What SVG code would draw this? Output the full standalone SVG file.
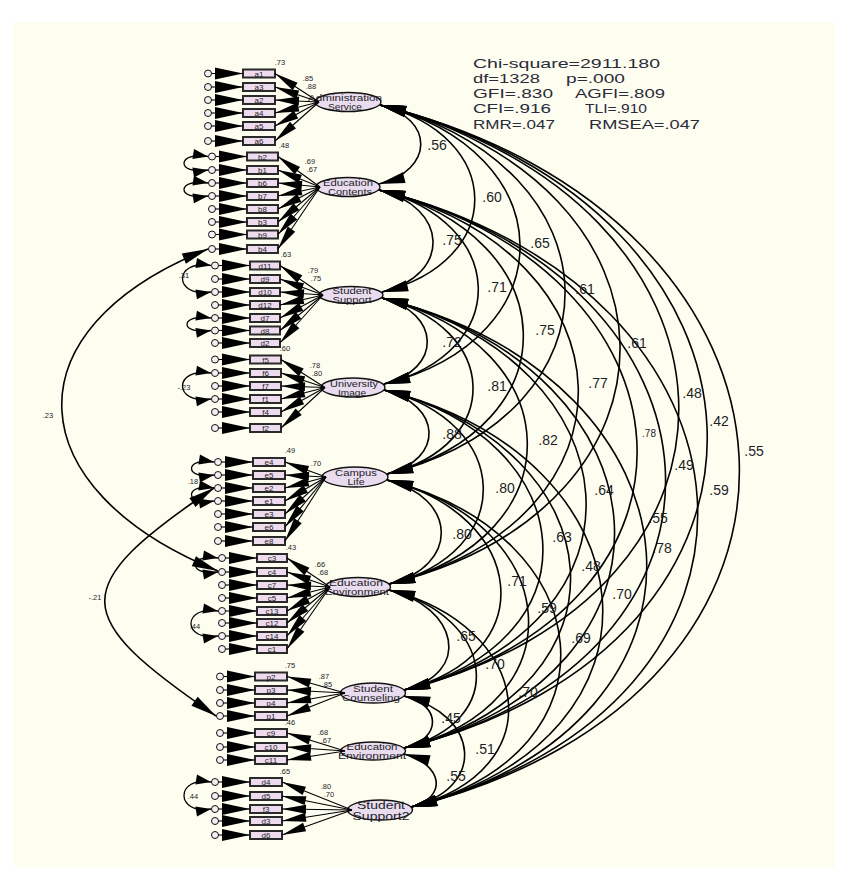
<svg xmlns="http://www.w3.org/2000/svg" width="849" height="880" viewBox="0 0 849 880">
<style>
text{font-family:"Liberation Sans",Arial,sans-serif;fill:#1e1e28}
.ind{fill:#eedcee;stroke:#2a2a2a;stroke-width:2}
.lat{fill:#e8dcee;stroke:#111;stroke-width:1.4}
.err{fill:#f4eef4;stroke:#111;stroke-width:1}
.it{font-size:8px;text-anchor:middle}
.lt{font-size:9px;text-anchor:middle}
.st{font-size:13px;fill:#2a2a3a}
.cl{font-size:14px;text-anchor:middle}
.sl{font-size:7.5px;text-anchor:middle}
.ld line{stroke:#000;stroke-width:1.1;marker-end:url(#al)}
.ea line{stroke:#000;stroke-width:1.1;marker-end:url(#ae)}
.cv path{fill:none;stroke:#000;stroke-width:1.6;marker-start:url(#ah);marker-end:url(#ah)}
.ec path{fill:none;stroke:#000;stroke-width:1.3;marker-start:url(#as);marker-end:url(#as)}
</style>
<defs>
<marker id="ah" markerUnits="userSpaceOnUse" markerWidth="26" markerHeight="12" refX="26" refY="6" orient="auto-start-reverse" overflow="visible"><path d="M0,0.5 L26,6 L0,11.5 Z" fill="#000"/></marker>
<marker id="ae" markerUnits="userSpaceOnUse" markerWidth="28" markerHeight="13" refX="28" refY="6.5" orient="auto" overflow="visible"><path d="M0,0.5 L28,6.5 L0,12.5 Z" fill="#000"/></marker>
<marker id="al" markerUnits="userSpaceOnUse" markerWidth="24" markerHeight="10" refX="24" refY="5" orient="auto" overflow="visible"><path d="M0,0.5 L24,5 L0,9.5 Z" fill="#000"/></marker>
<marker id="as" markerUnits="userSpaceOnUse" markerWidth="15" markerHeight="10" refX="15" refY="5" orient="auto-start-reverse" overflow="visible"><path d="M0,0 L15,5 L0,10 Z" fill="#000"/></marker>
</defs>
<rect x="0" y="0" width="849" height="880" fill="#ffffff"/>
<rect x="14" y="22" width="821" height="846" fill="#fdfdf0"/>

<g id="fit-stats">
<text class="st" x="473" y="68" textLength="187" lengthAdjust="spacingAndGlyphs">Chi-square=2911.180</text>
<text class="st" x="473" y="83" textLength="67" lengthAdjust="spacingAndGlyphs">df=1328</text>
<text class="st" x="566" y="83" textLength="59" lengthAdjust="spacingAndGlyphs">p=.000</text>
<text class="st" x="473" y="98" textLength="80" lengthAdjust="spacingAndGlyphs">GFI=.830</text>
<text class="st" x="575" y="98" textLength="90" lengthAdjust="spacingAndGlyphs">AGFI=.809</text>
<text class="st" x="473" y="113" textLength="78" lengthAdjust="spacingAndGlyphs">CFI=.916</text>
<text class="st" x="585" y="113" textLength="62" lengthAdjust="spacingAndGlyphs">TLI=.910</text>
<text class="st" x="473" y="129" textLength="82" lengthAdjust="spacingAndGlyphs">RMR=.047</text>
<text class="st" x="589" y="129" textLength="111" lengthAdjust="spacingAndGlyphs">RMSEA=.047</text>
</g>

<g id="n-admin"><ellipse class="lat" cx="348" cy="102" rx="33" ry="9.5"/><text class="lt" x="345" y="101" textLength="74" lengthAdjust="spacingAndGlyphs">Administration</text><text class="lt" x="345" y="110" textLength="34" lengthAdjust="spacingAndGlyphs">Service</text></g>
<g id="n-educontents"><ellipse class="lat" cx="348" cy="187" rx="32" ry="9.5"/><text class="lt" x="348" y="186" textLength="50" lengthAdjust="spacingAndGlyphs">Education</text><text class="lt" x="350" y="195" textLength="44" lengthAdjust="spacingAndGlyphs">Contents</text></g>
<g id="n-stusupport"><ellipse class="lat" cx="351" cy="295" rx="32" ry="8.5"/><text class="lt" x="352" y="294" textLength="39" lengthAdjust="spacingAndGlyphs">Student</text><text class="lt" x="352" y="303" textLength="39" lengthAdjust="spacingAndGlyphs">Support</text></g>
<g id="n-uniimage"><ellipse class="lat" cx="353" cy="387.5" rx="32" ry="9.5"/><text class="lt" x="354" y="387" textLength="48" lengthAdjust="spacingAndGlyphs">University</text><text class="lt" x="352" y="396" textLength="28" lengthAdjust="spacingAndGlyphs">Image</text></g>
<g id="n-campus"><ellipse class="lat" cx="355" cy="477" rx="33" ry="10"/><text class="lt" x="356" y="476" textLength="42" lengthAdjust="spacingAndGlyphs">Campus</text><text class="lt" x="356" y="485" textLength="17" lengthAdjust="spacingAndGlyphs">Life</text></g>
<g id="n-eduenv"><ellipse class="lat" cx="358" cy="587" rx="32.5" ry="9.5"/><text class="lt" x="356" y="586" textLength="54" lengthAdjust="spacingAndGlyphs">Education</text><text class="lt" x="357" y="595" textLength="64" lengthAdjust="spacingAndGlyphs">Environment</text></g>
<g id="n-counseling"><ellipse class="lat" cx="373" cy="693" rx="32.5" ry="10"/><text class="lt" x="373" y="692" textLength="40" lengthAdjust="spacingAndGlyphs">Student</text><text class="lt" x="371" y="701" textLength="58" lengthAdjust="spacingAndGlyphs">Counseling</text></g>
<g id="n-eduenv2"><ellipse class="lat" cx="373" cy="751" rx="32.5" ry="9"/><text class="lt" x="372" y="750" textLength="51" lengthAdjust="spacingAndGlyphs">Education</text><text class="lt" x="372" y="759" textLength="68" lengthAdjust="spacingAndGlyphs">Environment</text></g>
<g id="n-stusupport2"><ellipse class="lat" cx="380" cy="810" rx="32.5" ry="10"/><text class="lt" x="381" y="808.5" style="font-size:10.5px" textLength="48" lengthAdjust="spacingAndGlyphs">Student</text><text class="lt" x="381" y="820" style="font-size:10.5px" textLength="57" lengthAdjust="spacingAndGlyphs">Support2</text></g>

<g id="v-a1"><circle class="err" cx="208" cy="73.5" r="3.5"/><rect class="ind" x="243" y="69.5" width="32" height="8"/><text class="it" x="259" y="76.5">a1</text></g>
<g id="v-a3"><circle class="err" cx="208" cy="87" r="3.5"/><rect class="ind" x="243" y="83" width="32" height="8"/><text class="it" x="259" y="90">a3</text></g>
<g id="v-a2"><circle class="err" cx="208" cy="100" r="3.5"/><rect class="ind" x="243" y="96" width="32" height="8"/><text class="it" x="259" y="103">a2</text></g>
<g id="v-a4"><circle class="err" cx="208" cy="113" r="3.5"/><rect class="ind" x="243" y="109" width="32" height="8"/><text class="it" x="259" y="116">a4</text></g>
<g id="v-a5"><circle class="err" cx="208" cy="126" r="3.5"/><rect class="ind" x="243" y="122" width="32" height="8"/><text class="it" x="259" y="129">a5</text></g>
<g id="v-a6"><circle class="err" cx="208" cy="141" r="3.5"/><rect class="ind" x="243" y="137" width="32" height="8"/><text class="it" x="259" y="144">a6</text></g>

<g id="v-b2"><circle class="err" cx="212" cy="156.5" r="3.5"/><rect class="ind" x="247" y="152.5" width="31" height="8"/><text class="it" x="262.5" y="159.5">b2</text></g>
<g id="v-b1"><circle class="err" cx="212" cy="170" r="3.5"/><rect class="ind" x="247" y="166" width="31" height="8"/><text class="it" x="262.5" y="173">b1</text></g>
<g id="v-b6"><circle class="err" cx="212" cy="183" r="3.5"/><rect class="ind" x="247" y="179" width="31" height="8"/><text class="it" x="262.5" y="186">b6</text></g>
<g id="v-b7"><circle class="err" cx="212" cy="196" r="3.5"/><rect class="ind" x="247" y="192" width="31" height="8"/><text class="it" x="262.5" y="199">b7</text></g>
<g id="v-b8"><circle class="err" cx="212" cy="209" r="3.5"/><rect class="ind" x="247" y="205" width="31" height="8"/><text class="it" x="262.5" y="212">b8</text></g>
<g id="v-b3"><circle class="err" cx="212" cy="222" r="3.5"/><rect class="ind" x="247" y="218" width="31" height="8"/><text class="it" x="262.5" y="225">b3</text></g>
<g id="v-b9"><circle class="err" cx="212" cy="234.5" r="3.5"/><rect class="ind" x="247" y="230.5" width="31" height="8"/><text class="it" x="262.5" y="237.5">b9</text></g>
<g id="v-b4"><circle class="err" cx="212" cy="249" r="3.5"/><rect class="ind" x="247" y="245" width="31" height="8"/><text class="it" x="262.5" y="252">b4</text></g>

<g id="v-d11"><circle class="err" cx="215" cy="265.5" r="3.5"/><rect class="ind" x="250" y="261.5" width="30" height="8"/><text class="it" x="265" y="268.5">d11</text></g>
<g id="v-d9"><circle class="err" cx="215" cy="279" r="3.5"/><rect class="ind" x="250" y="275" width="30" height="8"/><text class="it" x="265" y="282">d9</text></g>
<g id="v-d10"><circle class="err" cx="215" cy="292" r="3.5"/><rect class="ind" x="250" y="288" width="30" height="8"/><text class="it" x="265" y="295">d10</text></g>
<g id="v-d12"><circle class="err" cx="215" cy="305" r="3.5"/><rect class="ind" x="250" y="301" width="30" height="8"/><text class="it" x="265" y="308">d12</text></g>
<g id="v-d7"><circle class="err" cx="215" cy="318" r="3.5"/><rect class="ind" x="250" y="314" width="30" height="8"/><text class="it" x="265" y="321">d7</text></g>
<g id="v-d8"><circle class="err" cx="215" cy="330.5" r="3.5"/><rect class="ind" x="250" y="326.5" width="30" height="8"/><text class="it" x="265" y="333.5">d8</text></g>
<g id="v-d2"><circle class="err" cx="215" cy="343" r="3.5"/><rect class="ind" x="250" y="339" width="30" height="8"/><text class="it" x="265" y="346">d2</text></g>

<g id="v-f5"><circle class="err" cx="215" cy="359.5" r="3.5"/><rect class="ind" x="250" y="355.5" width="31" height="8"/><text class="it" x="265.5" y="362.5">f5</text></g>
<g id="v-f6"><circle class="err" cx="215" cy="373" r="3.5"/><rect class="ind" x="250" y="369" width="31" height="8"/><text class="it" x="265.5" y="376">f6</text></g>
<g id="v-f7"><circle class="err" cx="215" cy="386" r="3.5"/><rect class="ind" x="250" y="382" width="31" height="8"/><text class="it" x="265.5" y="389">f7</text></g>
<g id="v-f1"><circle class="err" cx="215" cy="399" r="3.5"/><rect class="ind" x="250" y="395" width="31" height="8"/><text class="it" x="265.5" y="402">f1</text></g>
<g id="v-f4"><circle class="err" cx="215" cy="412" r="3.5"/><rect class="ind" x="250" y="408" width="31" height="8"/><text class="it" x="265.5" y="415">f4</text></g>
<g id="v-f2"><circle class="err" cx="215" cy="428" r="3.5"/><rect class="ind" x="250" y="424" width="31" height="8"/><text class="it" x="265.5" y="431">f2</text></g>

<g id="v-e4"><circle class="err" cx="218" cy="462" r="3.5"/><rect class="ind" x="253" y="458" width="32" height="8"/><text class="it" x="269" y="465">e4</text></g>
<g id="v-e5"><circle class="err" cx="218" cy="475" r="3.5"/><rect class="ind" x="253" y="471" width="32" height="8"/><text class="it" x="269" y="478">e5</text></g>
<g id="v-e2"><circle class="err" cx="218" cy="488" r="3.5"/><rect class="ind" x="253" y="484" width="32" height="8"/><text class="it" x="269" y="491">e2</text></g>
<g id="v-e1"><circle class="err" cx="218" cy="501" r="3.5"/><rect class="ind" x="253" y="497" width="32" height="8"/><text class="it" x="269" y="504">e1</text></g>
<g id="v-e3"><circle class="err" cx="218" cy="514" r="3.5"/><rect class="ind" x="253" y="510" width="32" height="8"/><text class="it" x="269" y="517">e3</text></g>
<g id="v-e6"><circle class="err" cx="218" cy="527" r="3.5"/><rect class="ind" x="253" y="523" width="32" height="8"/><text class="it" x="269" y="530">e6</text></g>
<g id="v-e8"><circle class="err" cx="218" cy="541" r="3.5"/><rect class="ind" x="253" y="537" width="32" height="8"/><text class="it" x="269" y="544">e8</text></g>

<g id="v-c3"><circle class="err" cx="222" cy="558" r="3.5"/><rect class="ind" x="257" y="554" width="30" height="8"/><text class="it" x="272" y="561">c3</text></g>
<g id="v-c4"><circle class="err" cx="222" cy="572" r="3.5"/><rect class="ind" x="257" y="568" width="30" height="8"/><text class="it" x="272" y="575">c4</text></g>
<g id="v-c7"><circle class="err" cx="222" cy="585" r="3.5"/><rect class="ind" x="257" y="581" width="30" height="8"/><text class="it" x="272" y="588">c7</text></g>
<g id="v-c5"><circle class="err" cx="222" cy="598" r="3.5"/><rect class="ind" x="257" y="594" width="30" height="8"/><text class="it" x="272" y="601">c5</text></g>
<g id="v-c13"><circle class="err" cx="222" cy="611" r="3.5"/><rect class="ind" x="257" y="607" width="30" height="8"/><text class="it" x="272" y="614">c13</text></g>
<g id="v-c12"><circle class="err" cx="222" cy="623" r="3.5"/><rect class="ind" x="257" y="619" width="30" height="8"/><text class="it" x="272" y="626">c12</text></g>
<g id="v-c14"><circle class="err" cx="222" cy="636" r="3.5"/><rect class="ind" x="257" y="632" width="30" height="8"/><text class="it" x="272" y="639">c14</text></g>
<g id="v-c1"><circle class="err" cx="222" cy="649" r="3.5"/><rect class="ind" x="257" y="645" width="30" height="8"/><text class="it" x="272" y="652">c1</text></g>

<g id="v-p2"><circle class="err" cx="220" cy="676.5" r="3.5"/><rect class="ind" x="255" y="672.5" width="32" height="8"/><text class="it" x="271" y="679.5">p2</text></g>
<g id="v-p3"><circle class="err" cx="220" cy="690" r="3.5"/><rect class="ind" x="255" y="686" width="32" height="8"/><text class="it" x="271" y="693">p3</text></g>
<g id="v-p4"><circle class="err" cx="220" cy="703" r="3.5"/><rect class="ind" x="255" y="699" width="32" height="8"/><text class="it" x="271" y="706">p4</text></g>
<g id="v-p1"><circle class="err" cx="220" cy="716" r="3.5"/><rect class="ind" x="255" y="712" width="32" height="8"/><text class="it" x="271" y="719">p1</text></g>

<g id="v-c9"><circle class="err" cx="220" cy="733" r="3.5"/><rect class="ind" x="255" y="729" width="32" height="8"/><text class="it" x="271" y="736">c9</text></g>
<g id="v-c10"><circle class="err" cx="220" cy="747" r="3.5"/><rect class="ind" x="255" y="743" width="32" height="8"/><text class="it" x="271" y="750">c10</text></g>
<g id="v-c11"><circle class="err" cx="220" cy="760" r="3.5"/><rect class="ind" x="255" y="756" width="32" height="8"/><text class="it" x="271" y="763">c11</text></g>

<g id="v-d4"><circle class="err" cx="215" cy="782" r="3.5"/><rect class="ind" x="250" y="778" width="32" height="8"/><text class="it" x="266" y="785">d4</text></g>
<g id="v-d5"><circle class="err" cx="215" cy="796" r="3.5"/><rect class="ind" x="250" y="792" width="32" height="8"/><text class="it" x="266" y="799">d5</text></g>
<g id="v-f3"><circle class="err" cx="215" cy="809" r="3.5"/><rect class="ind" x="250" y="805" width="32" height="8"/><text class="it" x="266" y="812">f3</text></g>
<g id="v-d3"><circle class="err" cx="215" cy="821" r="3.5"/><rect class="ind" x="250" y="817" width="32" height="8"/><text class="it" x="266" y="824">d3</text></g>
<g id="v-d6"><circle class="err" cx="215" cy="835" r="3.5"/><rect class="ind" x="250" y="831" width="32" height="8"/><text class="it" x="266" y="838">d6</text></g>

<g id="connectors">
<g class="ld">
<line x1="319" y1="102" x2="275" y2="73.5"/><line x1="319" y1="102" x2="275" y2="87"/><line x1="319" y1="102" x2="275" y2="100"/><line x1="319" y1="102" x2="275" y2="113"/><line x1="319" y1="102" x2="275" y2="126"/><line x1="319" y1="102" x2="275" y2="141"/>
<line x1="320" y1="187" x2="278" y2="156.5"/><line x1="320" y1="187" x2="278" y2="170"/><line x1="320" y1="187" x2="278" y2="183"/><line x1="320" y1="187" x2="278" y2="196"/><line x1="320" y1="187" x2="278" y2="209"/><line x1="320" y1="187" x2="278" y2="222"/><line x1="320" y1="187" x2="278" y2="234.5"/><line x1="320" y1="187" x2="278" y2="249"/>
<line x1="323" y1="295" x2="280" y2="265.5"/><line x1="323" y1="295" x2="280" y2="279"/><line x1="323" y1="295" x2="280" y2="292"/><line x1="323" y1="295" x2="280" y2="305"/><line x1="323" y1="295" x2="280" y2="318"/><line x1="323" y1="295" x2="280" y2="330.5"/><line x1="323" y1="295" x2="280" y2="343"/>
<line x1="325" y1="387.5" x2="281" y2="359.5"/><line x1="325" y1="387.5" x2="281" y2="373"/><line x1="325" y1="387.5" x2="281" y2="386"/><line x1="325" y1="387.5" x2="281" y2="399"/><line x1="325" y1="387.5" x2="281" y2="412"/><line x1="325" y1="387.5" x2="281" y2="428"/>
<line x1="326" y1="477" x2="285" y2="462"/><line x1="326" y1="477" x2="285" y2="475"/><line x1="326" y1="477" x2="285" y2="488"/><line x1="326" y1="477" x2="285" y2="501"/><line x1="326" y1="477" x2="285" y2="514"/><line x1="326" y1="477" x2="285" y2="527"/><line x1="326" y1="477" x2="285" y2="541"/>
<line x1="330" y1="587" x2="287" y2="558"/><line x1="330" y1="587" x2="287" y2="572"/><line x1="330" y1="587" x2="287" y2="585"/><line x1="330" y1="587" x2="287" y2="598"/><line x1="330" y1="587" x2="287" y2="611"/><line x1="330" y1="587" x2="287" y2="623"/><line x1="330" y1="587" x2="287" y2="636"/><line x1="330" y1="587" x2="287" y2="649"/>
<line x1="345" y1="693" x2="287" y2="676.5"/><line x1="345" y1="693" x2="287" y2="690"/><line x1="345" y1="693" x2="287" y2="703"/><line x1="345" y1="693" x2="287" y2="716"/>
<line x1="345" y1="751" x2="287" y2="733"/><line x1="345" y1="751" x2="287" y2="747"/><line x1="345" y1="751" x2="287" y2="760"/>
<line x1="352" y1="810" x2="282" y2="782"/><line x1="352" y1="810" x2="282" y2="796"/><line x1="352" y1="810" x2="282" y2="809"/><line x1="352" y1="810" x2="282" y2="821"/><line x1="352" y1="810" x2="282" y2="835"/>
</g>
<g class="ea">
<line x1="211.5" y1="73.5" x2="243" y2="73.5"/><line x1="211.5" y1="87" x2="243" y2="87"/><line x1="211.5" y1="100" x2="243" y2="100"/><line x1="211.5" y1="113" x2="243" y2="113"/><line x1="211.5" y1="126" x2="243" y2="126"/><line x1="211.5" y1="141" x2="243" y2="141"/>
<line x1="215.5" y1="156.5" x2="247" y2="156.5"/><line x1="215.5" y1="170" x2="247" y2="170"/><line x1="215.5" y1="183" x2="247" y2="183"/><line x1="215.5" y1="196" x2="247" y2="196"/><line x1="215.5" y1="209" x2="247" y2="209"/><line x1="215.5" y1="222" x2="247" y2="222"/><line x1="215.5" y1="234.5" x2="247" y2="234.5"/><line x1="215.5" y1="249" x2="247" y2="249"/>
<line x1="218.5" y1="265.5" x2="250" y2="265.5"/><line x1="218.5" y1="279" x2="250" y2="279"/><line x1="218.5" y1="292" x2="250" y2="292"/><line x1="218.5" y1="305" x2="250" y2="305"/><line x1="218.5" y1="318" x2="250" y2="318"/><line x1="218.5" y1="330.5" x2="250" y2="330.5"/><line x1="218.5" y1="343" x2="250" y2="343"/>
<line x1="218.5" y1="359.5" x2="250" y2="359.5"/><line x1="218.5" y1="373" x2="250" y2="373"/><line x1="218.5" y1="386" x2="250" y2="386"/><line x1="218.5" y1="399" x2="250" y2="399"/><line x1="218.5" y1="412" x2="250" y2="412"/><line x1="218.5" y1="428" x2="250" y2="428"/>
<line x1="221.5" y1="462" x2="253" y2="462"/><line x1="221.5" y1="475" x2="253" y2="475"/><line x1="221.5" y1="488" x2="253" y2="488"/><line x1="221.5" y1="501" x2="253" y2="501"/><line x1="221.5" y1="514" x2="253" y2="514"/><line x1="221.5" y1="527" x2="253" y2="527"/><line x1="221.5" y1="541" x2="253" y2="541"/>
<line x1="225.5" y1="558" x2="257" y2="558"/><line x1="225.5" y1="572" x2="257" y2="572"/><line x1="225.5" y1="585" x2="257" y2="585"/><line x1="225.5" y1="598" x2="257" y2="598"/><line x1="225.5" y1="611" x2="257" y2="611"/><line x1="225.5" y1="623" x2="257" y2="623"/><line x1="225.5" y1="636" x2="257" y2="636"/><line x1="225.5" y1="649" x2="257" y2="649"/>
<line x1="223.5" y1="676.5" x2="255" y2="676.5"/><line x1="223.5" y1="690" x2="255" y2="690"/><line x1="223.5" y1="703" x2="255" y2="703"/><line x1="223.5" y1="716" x2="255" y2="716"/>
<line x1="223.5" y1="733" x2="255" y2="733"/><line x1="223.5" y1="747" x2="255" y2="747"/><line x1="223.5" y1="760" x2="255" y2="760"/>
<line x1="218.5" y1="782" x2="250" y2="782"/><line x1="218.5" y1="796" x2="250" y2="796"/><line x1="218.5" y1="809" x2="250" y2="809"/><line x1="218.5" y1="821" x2="250" y2="821"/><line x1="218.5" y1="835" x2="250" y2="835"/>
</g>
<g class="ec">
<path d="M208,156.5 C176,151 176,175.5 208,170"/>
<path d="M208,183 C176,178 176,201 208,196"/>
<path d="M211,265.5 C173,259 173,298 211,292"/>
<path d="M211,318 C179,313 179,335.5 211,330.5"/>
<path d="M211,373 C173,367 173,405 211,399"/>
<path d="M214,462 C184,457 184,480 214,475"/>
<path d="M214,488 C184,483 184,506 214,501"/>
<path d="M218,558 C188,553 188,577 218,572"/>
<path d="M218,611 C182,605 182,642 218,636"/>
<path d="M211,782 C175,776 175,815 211,809"/>
</g>
<g class="cv">
<path d="M208,249 C5,330 18,490 218,571"/>
<path d="M214,488 C66,588 70,616 216,716"/>
<path d="M380,105 C435,119 434,170 379,184"/>
<path d="M380,105 C505,136 507,261 382,292"/>
<path d="M380,105 C564,151 568,338 384,384"/>
<path d="M380,105 C622,166 629,413 387,474"/>
<path d="M380,105 C694,183 703,506 389,584"/>
<path d="M380,105 C762,201 786,594 404,690"/>
<path d="M380,105 C800,210 824,643 404,748"/>
<path d="M380,105 C838,219 869,693 411,807"/>
<path d="M379,190 C449,207 452,275 382,292"/>
<path d="M379,190 C508,222 513,352 384,384"/>
<path d="M379,190 C566,237 574,427 387,474"/>
<path d="M379,190 C638,255 648,519 389,584"/>
<path d="M379,190 C706,272 731,608 404,690"/>
<path d="M379,190 C744,281 769,657 404,748"/>
<path d="M379,190 C782,291 814,706 411,807"/>
<path d="M382,298 C441,313 443,369 384,384"/>
<path d="M382,298 C500,327 505,445 387,474"/>
<path d="M382,298 C571,345 578,537 389,584"/>
<path d="M382,298 C639,362 661,626 404,690"/>
<path d="M382,298 C677,372 699,674 404,748"/>
<path d="M382,298 C715,381 744,724 411,807"/>
<path d="M384,390 C442,405 445,459 387,474"/>
<path d="M384,390 C513,422 518,552 389,584"/>
<path d="M384,390 C582,439 602,641 404,690"/>
<path d="M384,390 C619,449 639,689 404,748"/>
<path d="M384,390 C657,458 684,739 411,807"/>
<path d="M387,480 C458,498 460,566 389,584"/>
<path d="M387,480 C527,515 544,655 404,690"/>
<path d="M387,480 C564,524 581,704 404,748"/>
<path d="M387,480 C602,534 626,753 411,807"/>
<path d="M389,590 C458,607 473,673 404,690"/>
<path d="M389,590 C495,617 510,721 404,748"/>
<path d="M389,590 C533,626 555,771 411,807"/>
<path d="M404,696 C442,705 442,739 404,748"/>
<path d="M404,696 C480,715 487,788 411,807"/>
<path d="M404,754 C442,764 449,797 411,807"/>
</g>
</g>

<g id="labels">
<text class="cl" x="437" y="150">.56</text>
<text class="cl" x="492" y="202">.60</text>
<text class="cl" x="540" y="248">.65</text>
<text class="cl" x="585" y="294">.61</text>
<text class="cl" x="637" y="348">.61</text>
<text class="cl" x="692" y="398">.48</text>
<text class="cl" x="719" y="426">.42</text>
<text class="cl" x="754" y="456">.55</text>
<text class="cl" x="452" y="245">.75</text>
<text class="cl" x="497" y="292">.71</text>
<text class="cl" x="545" y="335">.75</text>
<text class="cl" x="598" y="388">.77</text>
<text class="cl" x="649" y="437" style="font-size:10px">.78</text>
<text class="cl" x="684" y="470">.49</text>
<text class="cl" x="719" y="495">.59</text>
<text class="cl" x="452" y="347">.72</text>
<text class="cl" x="497" y="391">.81</text>
<text class="cl" x="548" y="445">.82</text>
<text class="cl" x="604" y="495">.64</text>
<text class="cl" x="658" y="523">.55</text>
<text class="cl" x="662" y="553">.78</text>
<text class="cl" x="452" y="439">.88</text>
<text class="cl" x="505" y="493">.80</text>
<text class="cl" x="562" y="542">.63</text>
<text class="cl" x="591" y="571">.48</text>
<text class="cl" x="622" y="599">.70</text>
<text class="cl" x="462" y="539">.80</text>
<text class="cl" x="517" y="586">.71</text>
<text class="cl" x="547" y="613">.59</text>
<text class="cl" x="581" y="643">.69</text>
<text class="cl" x="466" y="641">.65</text>
<text class="cl" x="495" y="669">.70</text>
<text class="cl" x="528" y="697">.70</text>
<text class="cl" x="451" y="723">.45</text>
<text class="cl" x="485" y="754">.51</text>
<text class="cl" x="456" y="781">.55</text>

<text class="sl" x="48" y="418">.23</text>
<text class="sl" x="95" y="600">-.21</text>
<text class="sl" x="184" y="278">.31</text>
<text class="sl" x="184" y="390">-.23</text>
<text class="sl" x="193" y="484">.18</text>
<text class="sl" x="195" y="629">.44</text>
<text class="sl" x="193" y="799">.44</text>

<text class="sl" x="280" y="65">.73</text>
<text class="sl" x="308" y="81">.85</text>
<text class="sl" x="311" y="89">.88</text>
<text class="sl" x="284" y="148">.48</text>
<text class="sl" x="310" y="164">.69</text>
<text class="sl" x="312" y="172">.67</text>
<text class="sl" x="286" y="257">.63</text>
<text class="sl" x="313" y="273">.79</text>
<text class="sl" x="316" y="281">.75</text>
<text class="sl" x="285" y="351">.60</text>
<text class="sl" x="315" y="368">.78</text>
<text class="sl" x="317" y="376">.80</text>
<text class="sl" x="290" y="453">.49</text>
<text class="sl" x="316" y="466">.70</text>
<text class="sl" x="291" y="550">.43</text>
<text class="sl" x="320" y="567">.66</text>
<text class="sl" x="323" y="575">.68</text>
<text class="sl" x="290" y="668">.75</text>
<text class="sl" x="324" y="679">.87</text>
<text class="sl" x="327" y="687">.85</text>
<text class="sl" x="290" y="725">.46</text>
<text class="sl" x="323" y="735">.68</text>
<text class="sl" x="326" y="743">.67</text>
<text class="sl" x="285" y="774">.65</text>
<text class="sl" x="326" y="789">.80</text>
<text class="sl" x="329" y="797">.70</text>
</g>
</svg>
